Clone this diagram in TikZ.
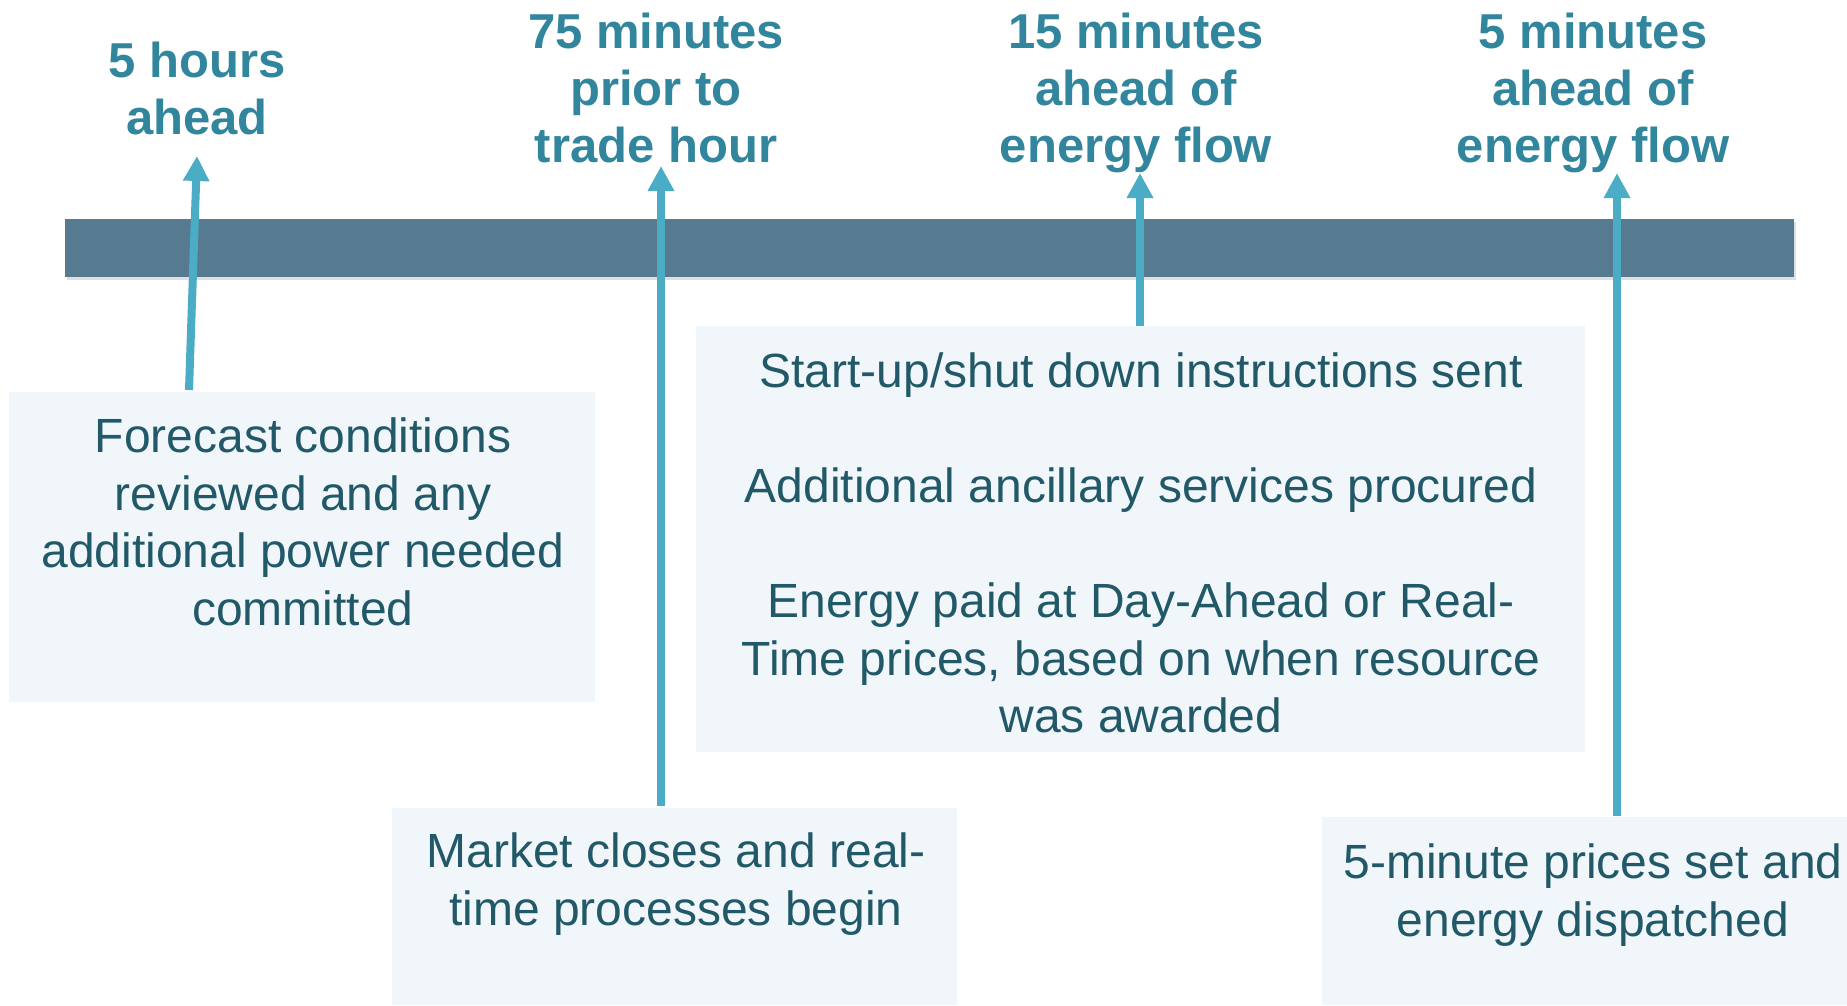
\documentclass[tikz,border=0pt]{standalone}
\usepackage{fontspec}
\setmainfont{Liberation Sans}
\usetikzlibrary{arrows.meta,shadows}
\definecolor{titlec}{HTML}{31859C}
\definecolor{bodyc}{HTML}{215968}
\definecolor{arrowc}{HTML}{4BACC6}
\definecolor{barc}{HTML}{567B90}
\definecolor{boxc}{HTML}{F1F6FB}
\begin{document}
\begin{tikzpicture}[x=1pt,y=-1pt,
  title/.style={text=titlec, font=\fontsize{49}{57}\selectfont\bfseries, align=center, inner sep=0pt},
  body/.style={text=bodyc, font=\fontsize{48}{57.6}\selectfont, align=center, inner sep=0pt},
  panel/.style={fill=boxc, draw=none, inner sep=0pt},
  arr/.style={draw=arrowc, line width=8pt, -{Triangle[length=25pt,width=25pt]}},
]
\useasboundingbox (0,0) rectangle (1847,1005);

% timeline bar
\node (bar) [fill=barc, inner sep=0pt, minimum width=1729pt, minimum height=58pt,
  drop shadow={opacity=0.25, shadow xshift=2pt, shadow yshift=-3pt}] at (929.5,248) {};

% panels
\node (box1) [panel, minimum width=586pt, minimum height=310pt] at (302,547) {};
\node (box2) [panel, minimum width=565pt, minimum height=197pt] at (674.5,906.5) {};
\node (box3) [panel, minimum width=889pt, minimum height=426pt] at (1140.5,539) {};
\node (box4) [panel, minimum width=525pt, minimum height=188pt] at (1584.5,911) {};

% panel texts
\node (txt1) [body] at (303,522) {Forecast conditions\\reviewed and any\\additional power needed\\committed};
\node (txt2) [body] at (676,884) {Market closes and real-\\time processes begin};
\node (txt3) [body] at (1141,543) {Start-up/shut down instructions sent\\[57.6pt]Additional ancillary services procured\\[57.6pt]Energy paid at Day-Ahead or Real-\\Time prices, based on when resource\\was awarded};
\node (txt4) [body] at (1593,895) {5-minute prices set and\\energy dispatched};

% titles
\node (t1) [title] at (197,88) {5 hours\\ahead};
\node (t2) [title] at (656,88) {75 minutes\\prior to\\trade hour};
\node (t3) [title] at (1136,93) {15 minutes\\ahead of\\energy flow};
\node (t4) [title] at (1593,93) {5 minutes\\ahead of\\energy flow};

% arrow end points
\coordinate (a1s) at (189,390);
\coordinate (a1e) at (197,156);
\coordinate (a2s) at (661,806);
\coordinate (a2e) at (661,166);
\coordinate (a3s) at (1140,326);
\coordinate (a3e) at (1140,173);
\coordinate (a4s) at (1617,816);
\coordinate (a4e) at (1617,173);

\draw[arr] (a1s) -- (a1e);
\draw[arr] (a2s) -- (a2e);
\draw[arr] (a3s) -- (a3e);
\draw[arr] (a4s) -- (a4e);
\end{tikzpicture}
\end{document}
